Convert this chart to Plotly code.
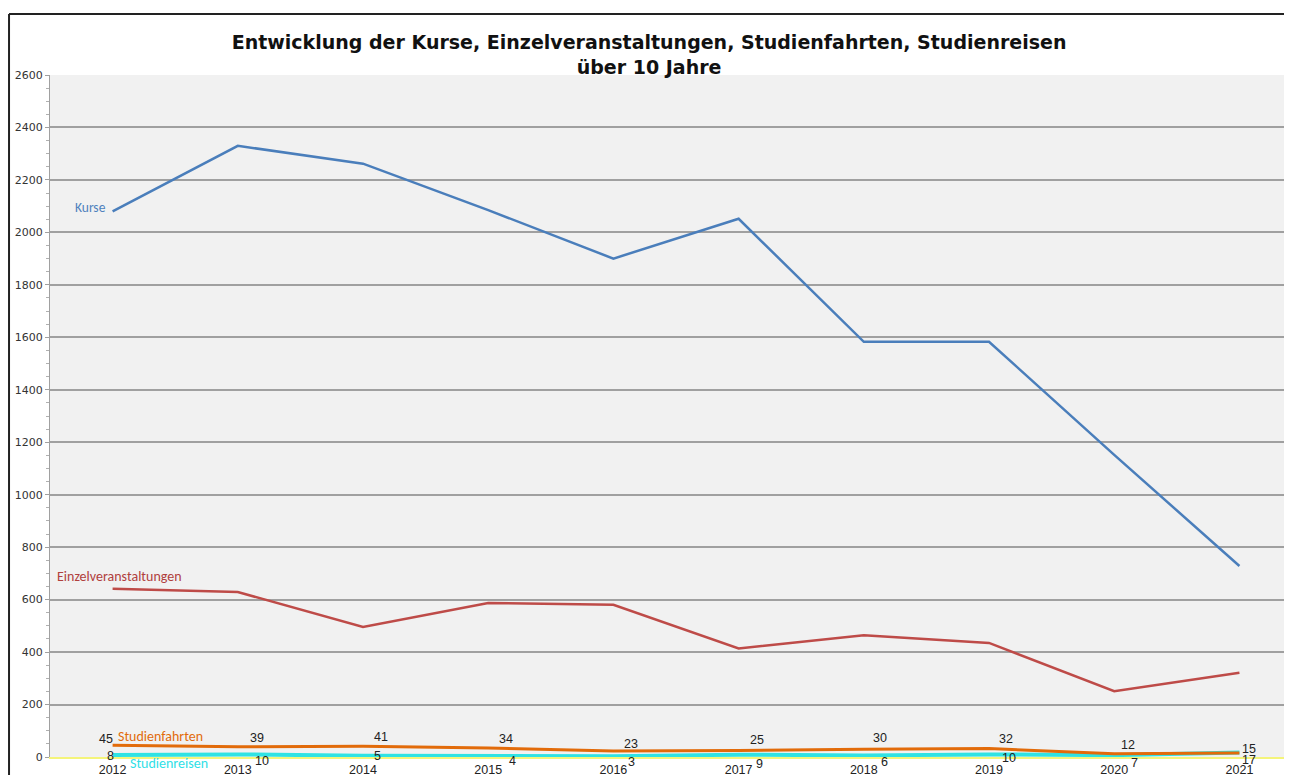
import plotly.graph_objects as go

years = ["2012", "2013", "2014", "2015", "2016", "2017", "2018", "2019", "2020", "2021"]
kurse = [2080, 2330, 2262, 2085, 1900, 2052, 1583, 1583, 1152, 728]
einzel = [641, 629, 496, 587, 580, 414, 464, 435, 251, 321]
fahrten = [45, 39, 41, 34, 23, 25, 30, 32, 12, 15]
reisen = [8, 10, 5, 4, 3, 9, 6, 10, 7, 17]
y_ticks = [0, 200, 400, 600, 800, 1000, 1200, 1400, 1600, 1800, 2000, 2200, 2400, 2600]

title_text = "<b>Entwicklung der Kurse, Einzelveranstaltungen, Studienfahrten, Studienreisen<br>über 10 Jahre</b>"

fig = go.Figure()
fig.add_trace(go.Scatter(x=years, y=kurse, mode="lines", name="Kurse",
                         line=dict(color="#4a7ebb", width=2.5)))
fig.add_trace(go.Scatter(x=years, y=einzel, mode="lines", name="Einzelveranstaltungen",
                         line=dict(color="#be4b48", width=2.5)))
fig.add_trace(go.Scatter(x=years, y=reisen, mode="lines", name="Studienreisen",
                         line=dict(color="#2fe3e3", width=4)))
fig.add_trace(go.Scatter(x=years, y=fahrten, mode="lines", name="Studienfahrten",
                         line=dict(color="#e26b0a", width=3)))

annots = []
lab_font = dict(family="Liberation Sans, Arial, sans-serif", size=12.5, color="#222222")

f_shift = [(-7, 6), (19, 9), (18, 9), (18, 9), (18, 7), (18, 10), (16, 11), (17, 10), (14, 9), (10, 4)]
for i, (v, (dx, dy)) in enumerate(zip(fahrten, f_shift)):
    annots.append(dict(x=i, y=v, xref="x", yref="y", text=str(v), showarrow=False,
                       font=lab_font, xshift=dx, yshift=dy))
r_shift = [(-2, -1), (24, -7), (14, 0), (24, -5), (18, -6), (21, -9), (21, -7), (20, -4), (20, -8), (10, -7)]
for i, (v, (dx, dy)) in enumerate(zip(reisen, r_shift)):
    annots.append(dict(x=i, y=v, xref="x", yref="y", text=str(v), showarrow=False,
                       font=lab_font, xshift=dx, yshift=dy))

series_font = "Carlito, Calibri, Noto Sans, sans-serif"
annots.append(dict(x=0, y=kurse[0], xref="x", yref="y", text="Kurse", showarrow=False,
                   xanchor="right", xshift=-5, yshift=4,
                   font=dict(family=series_font, size=13.5, color="#4f81bd")))
annots.append(dict(x=0, y=einzel[0], xref="x", yref="y", text="Einzelveranstaltungen",
                   showarrow=False, xanchor="left", xshift=-58, yshift=12,
                   font=dict(family=series_font, size=14, color="#b0403d")))
annots.append(dict(x=0, y=fahrten[0], xref="x", yref="y", text="Studienfahrten",
                   showarrow=False, xanchor="left", xshift=3, yshift=9,
                   font=dict(family=series_font, size=14, color="#e26b0a")))
annots.append(dict(x=0, y=reisen[0], xref="x", yref="y", text="Studienreisen",
                   showarrow=False, xanchor="left", xshift=15, yshift=-9,
                   font=dict(family=series_font, size=14, color="#2ee0e6")))

frame = dict(color="#222222", width=2)
fig.update_layout(
    width=1276, height=767,
    margin=dict(l=42, r=0, t=67, b=18, autoexpand=False),
    paper_bgcolor="white", plot_bgcolor="#f1f1f1",
    showlegend=False,
    annotations=annots,
    shapes=[
        dict(type="line", xref="paper", yref="paper", x0=-0.0332, x1=-0.0332,
             y0=-0.2, y1=1.0894, line=frame, layer="above"),
        dict(type="line", xref="paper", yref="paper", x0=-0.0332, x1=1.05,
             y0=1.0894, y1=1.0894, line=frame, layer="above"),
    ],
    title=dict(text=title_text, xref="container", x=0.5024, xanchor="center",
               yref="container", y=0.946, yanchor="middle",
               font=dict(family="DejaVu Sans, sans-serif", size=19, color="#111111")),
    font=dict(family="Liberation Sans, Arial, sans-serif", size=11, color="#333333"),
)
fig.update_xaxes(type="category", range=[-0.5, 9.356], showgrid=False, automargin=False,
                 showline=True, linecolor="#f4f47a", linewidth=2,
                 ticks="", tickfont=dict(size=12.5, color="#222222"))
fig.update_yaxes(range=[0, 2600], tickvals=y_ticks, showgrid=True, gridcolor="#a0a0a0",
                 automargin=False,
                 gridwidth=1.5, zeroline=False, showline=True, linecolor="#a0a0a0", linewidth=1,
                 ticks="outside", ticklen=4, tickcolor="#a0a0a0",
                 minor=dict(dtick=50, ticks="outside", ticklen=3, tickcolor="#b0b0b0", showgrid=False),
                 tickfont=dict(family="DejaVu Sans, sans-serif", size=11, color="#333333"))

fig.write_html("out.html")
